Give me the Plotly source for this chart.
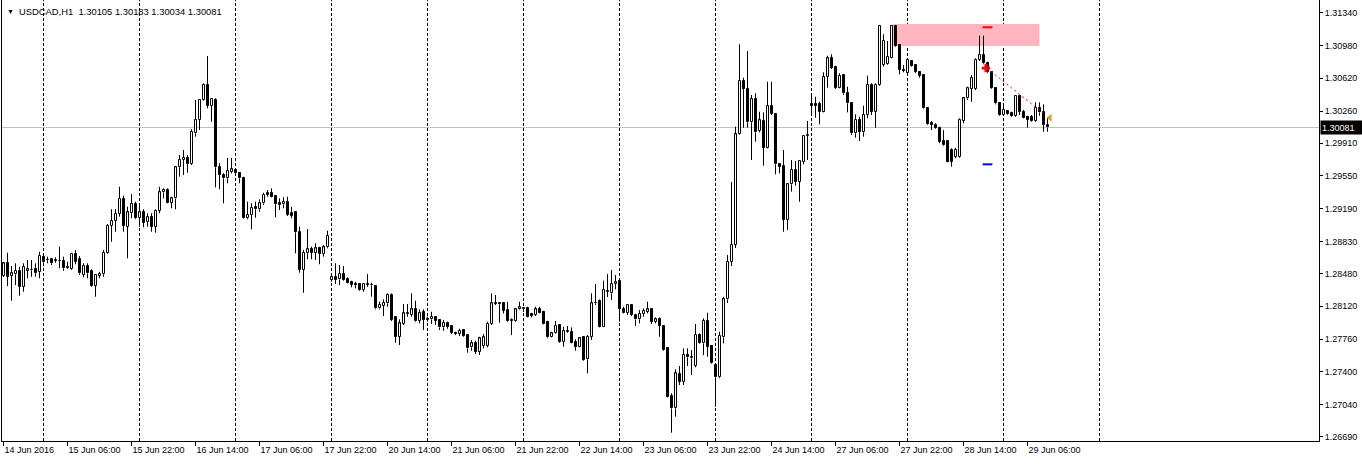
import plotly.graph_objects as go
from datetime import datetime, timedelta

# ---------------- data ----------------
symbol = "USDCAD,H1"
first_bar_time = datetime(2016, 6, 14, 14, 0)

opens = [
    1.28452, 1.28592, 1.28452, 1.28471, 1.28510, 1.28334, 1.28507, 1.28515, 1.28526, 1.28499,
    1.28664, 1.28628, 1.28636, 1.28620, 1.28620, 1.28620, 1.28554, 1.28526, 1.28693, 1.28636,
    1.28463, 1.28562, 1.28510, 1.28342, 1.28452, 1.28471, 1.28701, 1.29000, 1.29055, 1.29132,
    1.29297, 1.28993, 1.29140, 1.29242, 1.29085, 1.29151, 1.29048, 1.29096, 1.28993, 1.29165,
    1.29370, 1.29395, 1.29256, 1.29304, 1.29645, 1.29724, 1.29749, 1.29680, 1.30017, 1.30163,
    1.30382, 1.30547, 1.30320, 1.30382, 1.29651, 1.29560, 1.29523, 1.29596, 1.29615, 1.29578,
    1.29530, 1.29085, 1.29121, 1.29206, 1.29184, 1.29250, 1.29359, 1.29359, 1.29330, 1.29250,
    1.29239, 1.29268, 1.29140, 1.29158, 1.28938, 1.28518, 1.28701, 1.28752, 1.28707, 1.28763,
    1.28693, 1.28767, 1.28408, 1.28444, 1.28416, 1.28474, 1.28419, 1.28389, 1.28361, 1.28364,
    1.28299, 1.28361, 1.28353, 1.28342, 1.28097, 1.28126, 1.28152, 1.28244, 1.28006, 1.27786,
    1.27926, 1.28035, 1.28024, 1.28086, 1.27962, 1.28060, 1.27977, 1.27977, 1.27999, 1.27970,
    1.27889, 1.27933, 1.27904, 1.27830, 1.27816, 1.27860, 1.27805, 1.27670, 1.27714, 1.27622,
    1.27684, 1.27684, 1.27926, 1.28153, 1.28153, 1.28153, 1.28079, 1.27970, 1.27962, 1.28086,
    1.28097, 1.28097, 1.28035, 1.28024, 1.28086, 1.28060, 1.27951, 1.27786, 1.27823, 1.27915,
    1.27731, 1.27838, 1.27841, 1.27731, 1.27677, 1.27779, 1.27538, 1.27786, 1.28153, 1.28181,
    1.27896, 1.28280, 1.28262, 1.28364, 1.28401, 1.28086, 1.28049, 1.28134, 1.28024, 1.27977,
    1.28035, 1.28060, 1.28086, 1.27951, 1.27977, 1.27904, 1.27659, 1.27136, 1.27001, 1.27378,
    1.27293, 1.27586, 1.27549, 1.27465, 1.27805, 1.27714, 1.27959, 1.27684, 1.27476, 1.27341,
    1.27779, 1.28196, 1.28606, 1.28792, 1.30006, 1.30591, 1.30503, 1.30138, 1.30393, 1.30042,
    1.30152, 1.29859, 1.30316, 1.30229, 1.29677, 1.29659, 1.29066, 1.29458, 1.29615, 1.29486,
    1.29706, 1.29988, 1.30335, 1.30335, 1.30335, 1.30254, 1.30638, 1.30846, 1.30748, 1.30517,
    1.30657, 1.30456, 1.30346, 1.30017, 1.30163, 1.30028, 1.30218, 1.30547, 1.30254, 1.30547,
    1.30766, 1.30774, 1.30846, 1.31197, 1.30986, 1.30711, 1.30675, 1.30810, 1.30766, 1.30686,
    1.30657, 1.30291, 1.30127, 1.30108, 1.30072, 1.29933, 1.29933, 1.29834, 1.29761, 1.29761,
    1.30152, 1.30401, 1.30503, 1.30503, 1.30821, 1.30876, 1.30785, 1.30693, 1.30511, 1.30346,
    1.30218, 1.30262, 1.30236, 1.30207, 1.30426, 1.30254, 1.30199, 1.30199, 1.30152, 1.30298,
    1.30247, 1.30105,
]
highs = [
    1.28606, 1.28707, 1.28562, 1.28592, 1.28554, 1.28592, 1.28628, 1.28628, 1.28592, 1.28718,
    1.28682, 1.28664, 1.28646, 1.28657, 1.28774, 1.28664, 1.28609, 1.28707, 1.28737, 1.28671,
    1.28592, 1.28592, 1.28526, 1.28463, 1.28499, 1.28737, 1.29022, 1.29184, 1.29184, 1.29431,
    1.29334, 1.29212, 1.29351, 1.29268, 1.29250, 1.29184, 1.29140, 1.29140, 1.29184, 1.29431,
    1.29413, 1.29413, 1.29322, 1.29651, 1.29779, 1.29834, 1.29779, 1.30061, 1.30382, 1.30393,
    1.30565, 1.30865, 1.30401, 1.30401, 1.29691, 1.29582, 1.29746, 1.29746, 1.29622, 1.29585,
    1.29541, 1.29268, 1.29250, 1.29268, 1.29293, 1.29366, 1.29395, 1.29413, 1.29341, 1.29304,
    1.29315, 1.29322, 1.29212, 1.29158, 1.28993, 1.28737, 1.28968, 1.28774, 1.28811, 1.28774,
    1.28792, 1.28949, 1.28482, 1.28592, 1.28573, 1.28562, 1.28438, 1.28401, 1.28389, 1.28372,
    1.28372, 1.28474, 1.28378, 1.28353, 1.28170, 1.28196, 1.28262, 1.28262, 1.28006, 1.27977,
    1.28145, 1.28145, 1.28262, 1.28181, 1.28086, 1.28086, 1.28006, 1.28060, 1.28013, 1.27977,
    1.27970, 1.27951, 1.27915, 1.27841, 1.27874, 1.27867, 1.27816, 1.27750, 1.27743, 1.27786,
    1.27816, 1.27951, 1.28262, 1.28244, 1.28156, 1.28159, 1.28170, 1.27988, 1.28097, 1.28170,
    1.28112, 1.28115, 1.28049, 1.28115, 1.28115, 1.28071, 1.27962, 1.27841, 1.27959, 1.27926,
    1.27896, 1.27904, 1.27889, 1.27757, 1.27779, 1.27786, 1.27805, 1.28262, 1.28364, 1.28196,
    1.28401, 1.28474, 1.28518, 1.28463, 1.28401, 1.28115, 1.28145, 1.28145, 1.28035, 1.28079,
    1.28097, 1.28170, 1.28097, 1.27999, 1.27999, 1.27915, 1.27670, 1.27166, 1.27429, 1.27465,
    1.27659, 1.27659, 1.27641, 1.27926, 1.27823, 1.27988, 1.28049, 1.27695, 1.27476, 1.27841,
    1.28225, 1.28682, 1.29483, 1.30090, 1.30993, 1.30627, 1.30920, 1.30437, 1.30456, 1.30254,
    1.30247, 1.30583, 1.30583, 1.30236, 1.29680, 1.29834, 1.29469, 1.29724, 1.29713, 1.29724,
    1.29999, 1.30152, 1.30437, 1.30419, 1.30364, 1.30686, 1.30868, 1.30884, 1.30759, 1.30675,
    1.30657, 1.30528, 1.30357, 1.30226, 1.30199, 1.30320, 1.30649, 1.30565, 1.30565, 1.31205,
    1.31103, 1.31029, 1.31205, 1.31205, 1.30986, 1.30766, 1.30821, 1.30821, 1.30774, 1.30693,
    1.30664, 1.30298, 1.30152, 1.30127, 1.30090, 1.30053, 1.29944, 1.29853, 1.29859, 1.30182,
    1.30408, 1.30528, 1.30657, 1.30840, 1.31088, 1.31088, 1.30802, 1.30700, 1.30517, 1.30357,
    1.30328, 1.30273, 1.30254, 1.30437, 1.30437, 1.30273, 1.30210, 1.30218, 1.30357, 1.30357,
    1.30335, 1.30183,
]
lows = [
    1.28441, 1.28342, 1.28181, 1.28353, 1.28236, 1.28280, 1.28427, 1.28444, 1.28444, 1.28427,
    1.28581, 1.28592, 1.28573, 1.28598, 1.28537, 1.28510, 1.28529, 1.28518, 1.28581, 1.28463,
    1.28438, 1.28427, 1.28334, 1.28225, 1.28427, 1.28444, 1.28693, 1.28828, 1.28938, 1.29103,
    1.28938, 1.28646, 1.29085, 1.29074, 1.28993, 1.28986, 1.28993, 1.28938, 1.28927, 1.29140,
    1.29304, 1.29250, 1.29195, 1.29184, 1.29541, 1.29560, 1.29585, 1.29669, 1.29980, 1.30053,
    1.30374, 1.30291, 1.30144, 1.29425, 1.29403, 1.29250, 1.29469, 1.29578, 1.29560, 1.29469,
    1.29080, 1.29074, 1.28964, 1.29092, 1.29158, 1.29231, 1.29322, 1.29315, 1.29096, 1.29176,
    1.29195, 1.29110, 1.29085, 1.28701, 1.28488, 1.28269, 1.28636, 1.28636, 1.28628, 1.28581,
    1.28664, 1.28756, 1.28389, 1.28364, 1.28353, 1.28401, 1.28372, 1.28328, 1.28317, 1.28291,
    1.28280, 1.28334, 1.28225, 1.28086, 1.28086, 1.28013, 1.28115, 1.27959, 1.27720, 1.27695,
    1.27915, 1.28006, 1.28006, 1.27951, 1.27933, 1.27860, 1.27951, 1.27926, 1.27915, 1.27860,
    1.27852, 1.27874, 1.27816, 1.27805, 1.27794, 1.27786, 1.27611, 1.27633, 1.27597, 1.27586,
    1.27659, 1.27670, 1.27915, 1.28134, 1.27940, 1.28042, 1.27951, 1.27805, 1.27951, 1.28079,
    1.28057, 1.27999, 1.27999, 1.28013, 1.28042, 1.27922, 1.27768, 1.27779, 1.27816, 1.27720,
    1.27677, 1.27830, 1.27714, 1.27633, 1.27670, 1.27523, 1.27385, 1.27750, 1.28134, 1.27889,
    1.27893, 1.28222, 1.28189, 1.28306, 1.27951, 1.28042, 1.28024, 1.28013, 1.27904, 1.27933,
    1.28006, 1.28042, 1.27926, 1.27933, 1.27786, 1.27633, 1.27122, 1.26734, 1.26909, 1.27257,
    1.27257, 1.27465, 1.27367, 1.27451, 1.27706, 1.27586, 1.27567, 1.27487, 1.27019, 1.27330,
    1.27714, 1.28156, 1.28562, 1.28759, 1.29999, 1.30079, 1.30079, 1.29724, 1.29925, 1.30028,
    1.29662, 1.29853, 1.30218, 1.29567, 1.29578, 1.28938, 1.28957, 1.29377, 1.29443, 1.29267,
    1.29677, 1.29724, 1.30236, 1.30188, 1.30116, 1.30247, 1.30517, 1.30722, 1.30503, 1.30511,
    1.30437, 1.30247, 1.29999, 1.29969, 1.29933, 1.29980, 1.30182, 1.30218, 1.30079, 1.30539,
    1.30748, 1.30766, 1.30840, 1.30967, 1.30664, 1.30686, 1.30664, 1.30748, 1.30675, 1.30627,
    1.30284, 1.30108, 1.30053, 1.30064, 1.29908, 1.29881, 1.29699, 1.29651, 1.29743, 1.29750,
    1.30127, 1.30382, 1.30364, 1.30492, 1.30810, 1.30774, 1.30675, 1.30503, 1.30335, 1.30210,
    1.30207, 1.30218, 1.30199, 1.30199, 1.30218, 1.30182, 1.30079, 1.30144, 1.30144, 1.30210,
    1.30035, 1.30034,
]
closes = [
    1.28590, 1.28444, 1.28482, 1.28507, 1.28334, 1.28554, 1.28526, 1.28518, 1.28482, 1.28671,
    1.28603, 1.28625, 1.28592, 1.28623, 1.28618, 1.28537, 1.28537, 1.28693, 1.28609, 1.28482,
    1.28562, 1.28482, 1.28342, 1.28463, 1.28474, 1.28707, 1.29000, 1.29055, 1.29132, 1.29297,
    1.29003, 1.29151, 1.29242, 1.29085, 1.29151, 1.29037, 1.29096, 1.28993, 1.29165, 1.29370,
    1.29395, 1.29256, 1.29304, 1.29645, 1.29724, 1.29749, 1.29680, 1.30031, 1.30163, 1.30382,
    1.30547, 1.30320, 1.30393, 1.29645, 1.29560, 1.29523, 1.29604, 1.29622, 1.29578, 1.29523,
    1.29085, 1.29121, 1.29201, 1.29184, 1.29250, 1.29341, 1.29341, 1.29322, 1.29239, 1.29231,
    1.29268, 1.29121, 1.29110, 1.28932, 1.28518, 1.28707, 1.28745, 1.28707, 1.28756, 1.28693,
    1.28767, 1.28891, 1.28444, 1.28408, 1.28474, 1.28408, 1.28378, 1.28353, 1.28358, 1.28299,
    1.28364, 1.28358, 1.28350, 1.28097, 1.28134, 1.28159, 1.28244, 1.27970, 1.27786, 1.27933,
    1.28042, 1.28049, 1.28086, 1.27962, 1.28049, 1.27970, 1.27974, 1.28006, 1.27962, 1.27889,
    1.27940, 1.27896, 1.27830, 1.27816, 1.27852, 1.27794, 1.27659, 1.27714, 1.27622, 1.27768,
    1.27779, 1.27926, 1.28153, 1.28150, 1.28142, 1.28071, 1.27962, 1.27959, 1.28086, 1.28108,
    1.28086, 1.28006, 1.28013, 1.28086, 1.28049, 1.27926, 1.27779, 1.27823, 1.27904, 1.27731,
    1.27852, 1.27852, 1.27720, 1.27677, 1.27768, 1.27531, 1.27786, 1.28153, 1.28159, 1.27896,
    1.28299, 1.28283, 1.28364, 1.28383, 1.28086, 1.28049, 1.28134, 1.28024, 1.27977, 1.28035,
    1.28068, 1.28086, 1.27951, 1.27977, 1.27904, 1.27641, 1.27129, 1.27001, 1.27385, 1.27293,
    1.27586, 1.27560, 1.27567, 1.27805, 1.27714, 1.27959, 1.27677, 1.27494, 1.27341, 1.27794,
    1.28196, 1.28606, 1.28792, 1.30006, 1.30591, 1.30503, 1.30138, 1.30393, 1.30028, 1.30160,
    1.29859, 1.30316, 1.30229, 1.29677, 1.29651, 1.29066, 1.29458, 1.29615, 1.29486, 1.29713,
    1.29991, 1.29999, 1.30320, 1.30320, 1.30254, 1.30638, 1.30840, 1.30737, 1.30517, 1.30646,
    1.30456, 1.30346, 1.30017, 1.30163, 1.30035, 1.30218, 1.30547, 1.30254, 1.30547, 1.31197,
    1.31029, 1.30857, 1.31197, 1.30978, 1.30711, 1.30700, 1.30821, 1.30759, 1.30686, 1.30649,
    1.30291, 1.30116, 1.30108, 1.30072, 1.29925, 1.29889, 1.29706, 1.29706, 1.29834, 1.30163,
    1.30401, 1.30511, 1.30627, 1.30821, 1.30876, 1.30785, 1.30686, 1.30511, 1.30346, 1.30218,
    1.30273, 1.30226, 1.30207, 1.30426, 1.30254, 1.30188, 1.30163, 1.30152, 1.30298, 1.30247,
    1.30108, 1.30081,
]

price_ticks = [1.31340, 1.30980, 1.30620, 1.30260, 1.29910, 1.29550, 1.29190,
               1.28830, 1.28480, 1.28120, 1.27760, 1.27400, 1.27040, 1.26690]
label_every = 16          # bars between time labels

# chart objects (values in bar-index / price space)
zone_bars = [222.3, 259.0]
zone_prices = [1.30975, 1.31216]
trend_bars = [245.9, 260.25]
trend_prices = [1.30730, 1.30226]
signal_bar = 245.6
signal_price = 1.30733
level_bar = 246
level_high = 1.31180
level_low = 1.29677
marker_bar = 261.6
marker_price = 1.30188

# ---------------- derived ----------------
n = len(opens)
idx = list(range(n))
current_price = closes[-1]

times = []
t = first_bar_time
while len(times) < n + 80:
    if t.weekday() < 5:
        times.append(t)
    t += timedelta(hours=1)

tick_idx = list(range(0, n, label_every))
tick_text = [times[0].strftime("%d %b %Y") if i == 0 else times[i].strftime("%d %b %H:%M")
             for i in tick_idx]

last_day = times[n - 1].date()
separators = [i for i in range(1, len(times))
              if times[i].hour == 0 and times[i].date() <= last_day + timedelta(days=1)]

body_base = [min(o, c) for o, c in zip(opens, closes)]
body_h = [abs(c - o) for o, c in zip(opens, closes)]
body_fill = ["white" if c >= o else "black" for o, c in zip(opens, closes)]

wx, wy = [], []
for i in idx:
    top = max(opens[i], closes[i])
    bot = min(opens[i], closes[i])
    wx += [i, i, None, i, i, None]
    wy += [highs[i], top, None, bot, lows[i], None]

FONT = "Liberation Sans, Arial, sans-serif"

fig = go.Figure()
fig.add_trace(go.Scatter(x=wx, y=wy, mode="lines", line=dict(color="black", width=1),
                         hoverinfo="skip", connectgaps=False))
fig.add_trace(go.Bar(x=idx, y=body_h, base=body_base, width=0.5,
                     marker=dict(color=body_fill, line=dict(color="black", width=1))))
# trend line and markers
fig.add_trace(go.Scatter(x=trend_bars, y=trend_prices, mode="lines",
                         line=dict(color="red", width=1, dash="2px,3px")))
fig.add_trace(go.Scatter(x=[level_bar], y=[level_high], mode="markers",
                         marker=dict(symbol="line-ew", size=7, line=dict(color="red", width=2))))
fig.add_trace(go.Scatter(x=[level_bar], y=[level_low], mode="markers",
                         marker=dict(symbol="line-ew", size=7, line=dict(color="blue", width=2))))
fig.add_trace(go.Scatter(x=[signal_bar], y=[signal_price], mode="markers",
                         marker=dict(symbol="cross", size=7, color="red", line=dict(width=0))))
fig.add_trace(go.Scatter(x=[marker_bar], y=[marker_price], mode="markers",
                         marker=dict(symbol="triangle-left", size=7, color="#E0A020", line=dict(width=0))))

shapes = []
shapes.append(dict(type="rect", xref="x", yref="y", x0=zone_bars[0], x1=zone_bars[1],
                   y0=zone_prices[0], y1=zone_prices[1], fillcolor="#FFB6C1",
                   line=dict(width=0), layer="below"))
shapes.append(dict(type="line", xref="paper", yref="y", x0=0, x1=1,
                   y0=current_price, y1=current_price,
                   line=dict(color="#C0C0C0", width=1), layer="below"))
for s in separators:
    shapes.append(dict(type="line", xref="x", yref="paper", x0=s, x1=s, y0=0, y1=1,
                       line=dict(color="black", width=1, dash="3px,2px"), layer="below"))

title_text = "%s\u00a0 %.5f %.5f %.5f %.5f" % (symbol, opens[-1], highs[-1], lows[-1], closes[-1])

annotations = [
    dict(xref="paper", yref="paper", x=0, y=1, xanchor="left", yanchor="top",
         xshift=3, yshift=-6, text="\u25bc", showarrow=False,
         font=dict(family=FONT, size=7, color="black")),
    dict(xref="paper", yref="paper", x=0, y=1, xanchor="left", yanchor="top",
         xshift=15, yshift=-4, text=title_text, showarrow=False,
         font=dict(family=FONT, size=9.4, color="black")),
    dict(xref="paper", yref="y", x=1, y=current_price, xanchor="left", yanchor="middle",
         xshift=1, text="%.5f" % current_price, showarrow=False, bgcolor="black",
         width=39, height=11, align="left", borderpad=1,
         font=dict(family=FONT, size=9, color="white")),
]

fig.update_layout(
    width=1362, height=464,
    margin=dict(l=2, r=43, t=0, b=23),
    paper_bgcolor="white", plot_bgcolor="white",
    showlegend=False, bargap=0,
    font=dict(family=FONT, size=9, color="black"),
    shapes=shapes, annotations=annotations,
    xaxis=dict(range=[-0.375, 328.875], showgrid=False, zeroline=False,
               showline=True, linecolor="black", linewidth=1,
               ticks="outside", ticklen=4, tickcolor="black", tickwidth=1,
               tickvals=tick_idx, ticktext=tick_text, ticklabelposition="outside right",
               tickfont=dict(family=FONT, size=9, color="black"), fixedrange=True),
    yaxis=dict(range=[1.26643, 1.31479], side="right", showgrid=False, zeroline=False,
               showline=True, mirror=True, linecolor="black", linewidth=1,
               ticks="outside", ticklen=3, tickcolor="black",
               tickvals=price_ticks, ticktext=["%.5f" % v for v in price_ticks],
               tickfont=dict(family=FONT, size=9, color="black"), fixedrange=True),
)

fig.write_html("out.html")
